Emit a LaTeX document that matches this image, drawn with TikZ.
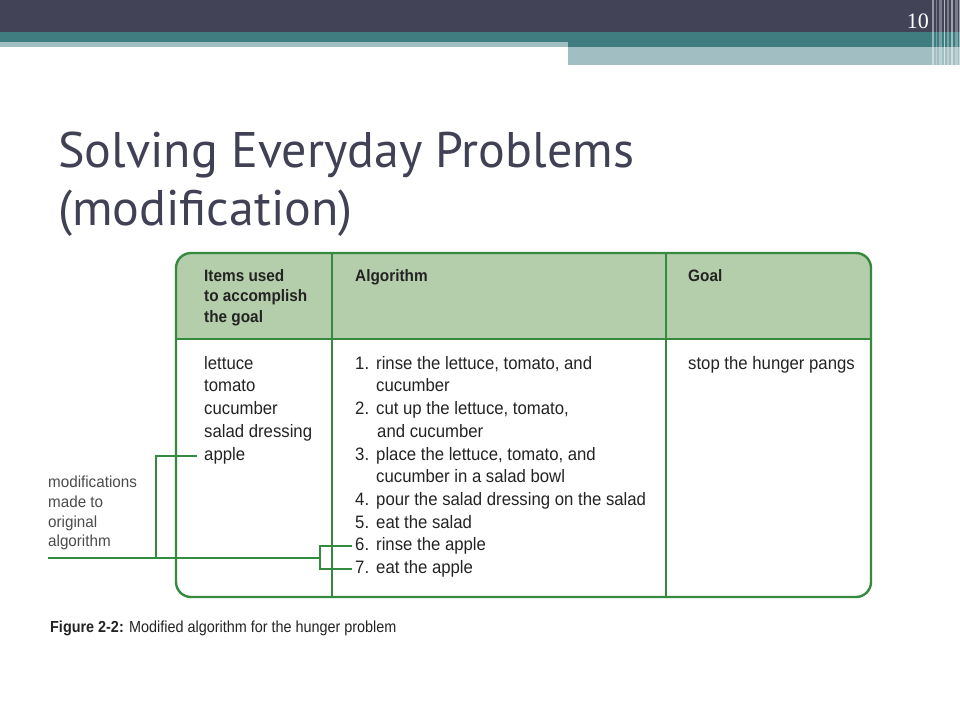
\documentclass[tikz,border=0pt]{standalone}
\usepackage{fontspec}
\setmainfont{Liberation Sans}
\newfontfamily\titlefont{PT Sans}
\newfontfamily\tabfont[FakeStretch=0.93]{Liberation Sans}
\newfontfamily\capfont[FakeStretch=0.9]{Liberation Sans}
\newfontfamily\numfont{Liberation Serif}
\newfontfamily\notefont[FakeStretch=0.95]{Liberation Sans}
\definecolor{barDark}{RGB}{66,67,87}
\definecolor{tealA}{RGB}{64,125,129}
\definecolor{tealB}{RGB}{161,190,194}
\definecolor{titleC}{RGB}{64,65,84}
\definecolor{tabGreen}{RGB}{52,138,62}
\definecolor{headFill}{RGB}{180,205,170}
\definecolor{txt}{RGB}{35,35,35}
\definecolor{noteC}{RGB}{75,75,75}
\tikzset{
  tabline/.style={draw=tabGreen, line width=2.4},
  conn/.style={draw=tabGreen, line width=2},
  tabtext/.style={font=\tabfont\fontsize{18}{20}\selectfont, text=txt, inner sep=0, anchor=base west, text height=12, text depth=4},
  headtext/.style={font=\tabfont\bfseries\fontsize{16.5}{20}\selectfont, text=txt, inner sep=0, anchor=base west},
  notetext/.style={font=\notefont\fontsize{16}{18}\selectfont, text=noteC, inner sep=0, anchor=base west},
  titletext/.style={font=\titlefont\fontsize{50}{58}\selectfont, text=titleC, inner sep=0, anchor=base west}
}
\begin{document}
\begin{tikzpicture}[x=1pt,y=-1pt]
\useasboundingbox (0,0) rectangle (960,720);
% top bands
\fill[barDark] (0,0) rectangle (960,32);
\fill[tealA] (0,32) rectangle (960,42);
\fill[tealA] (568,42) rectangle (960,47);
\fill[tealB] (0,42) rectangle (568,47);
\fill[tealB] (568,47) rectangle (960,65);
\foreach \x/\w/\o in {932/1.5/0.45, 936/1/0.3, 939/3/0.3, 944/1/0.6, 947/2/0.3, 951/1.5/0.5, 955/3/0.3, 959/1/0.5}
  \fill[white,opacity=\o] (\x,0) rectangle ++(\w,65);
\node[anchor=base east, font=\numfont\fontsize{22}{22}\selectfont, text=white, inner sep=0] (pnum) at (929,28) {10};
% title
\node[titletext] (t1) at (58,167) {Solving Everyday Problems};
\node[titletext] (t2) at (58,225) {(modification)};
% table
\begin{scope}
  \clip[rounded corners=15] (176,253) rectangle (871,597);
  \fill[headFill] (176,253) rectangle (871,339);
\end{scope}
\draw[tabline, rounded corners=15] (176,253) rectangle (871,597);
\draw[tabline] (176,339) -- (871,339);
\draw[tabline] (332,253) -- (332,597);
\draw[tabline] (666,253) -- (666,597);
% header
\node[headtext] (h1) at (204,281) {Items used};
\node[headtext] (h2) at (204,301.5) {to accomplish};
\node[headtext] (h3) at (204,322) {the goal};
\node[headtext] (h4) at (355,281) {Algorithm};
\node[headtext] (h5) at (688,281) {Goal};
% items
\node[tabtext] (i1) at (204,369) {lettuce};
\node[tabtext] (i2) at (204,391.75) {tomato};
\node[tabtext] (i3) at (204,414.5) {cucumber};
\node[tabtext] (i4) at (204,437.25) {salad dressing};
\node[tabtext] (apple) at (204,460) {apple};
% algorithm
\node[tabtext] (n1) at (355,369) {1.};
\node[tabtext] (a1) at (376,369) {rinse the lettuce, tomato, and};
\node[tabtext] (a1b) at (376,391.75) {cucumber};
\node[tabtext] (n2) at (355,414.5) {2.};
\node[tabtext] (a2) at (376,414.5) {cut up the lettuce, tomato,};
\node[tabtext] (a2b) at (377,437.25) {and cucumber};
\node[tabtext] (n3) at (355,460) {3.};
\node[tabtext] (a3) at (376,460) {place the lettuce, tomato, and};
\node[tabtext] (a3b) at (376,482.75) {cucumber in a salad bowl};
\node[tabtext] (n4) at (355,505.5) {4.};
\node[tabtext] (a4) at (376,505.5) {pour the salad dressing on the salad};
\node[tabtext] (n5) at (355,528.25) {5.};
\node[tabtext] (a5) at (376,528.25) {eat the salad};
\node[tabtext] (n6) at (355,550) {6.};
\node[tabtext] (a6) at (376,550) {rinse the apple};
\node[tabtext] (n7) at (355,573) {7.};
\node[tabtext] (a7) at (376,573) {eat the apple};
% goal
\node[tabtext] (g1) at (688,369) {stop the hunger pangs};
% note
\node[notetext] (m1) at (48,487) {modifications};
\node[notetext] (m2) at (48,507) {made to};
\node[notetext] (m3) at (48,527) {original};
\node[notetext] (m4) at (48,546) {algorithm};
% connectors
\coordinate (lstart) at (48,558);
\coordinate (jtop) at (156,456);
\coordinate (jbot) at (156,558);
\coordinate (br) at (320,558);
\draw[conn] ([xshift=-7]apple.west) -- (jtop |- apple.west) -- (jbot);
\draw[conn] (lstart) -- (br);
\draw[conn] ([xshift=-3]n6.west) -| (br) |- ([xshift=-3]n7.west);
% caption
\node[anchor=base west, inner sep=0, font=\capfont\fontsize{16}{18}\selectfont, text=txt] (cap) at (50,632) {\textbf{Figure 2-2:} Modified algorithm for the hunger problem};
\end{tikzpicture}
\end{document}
